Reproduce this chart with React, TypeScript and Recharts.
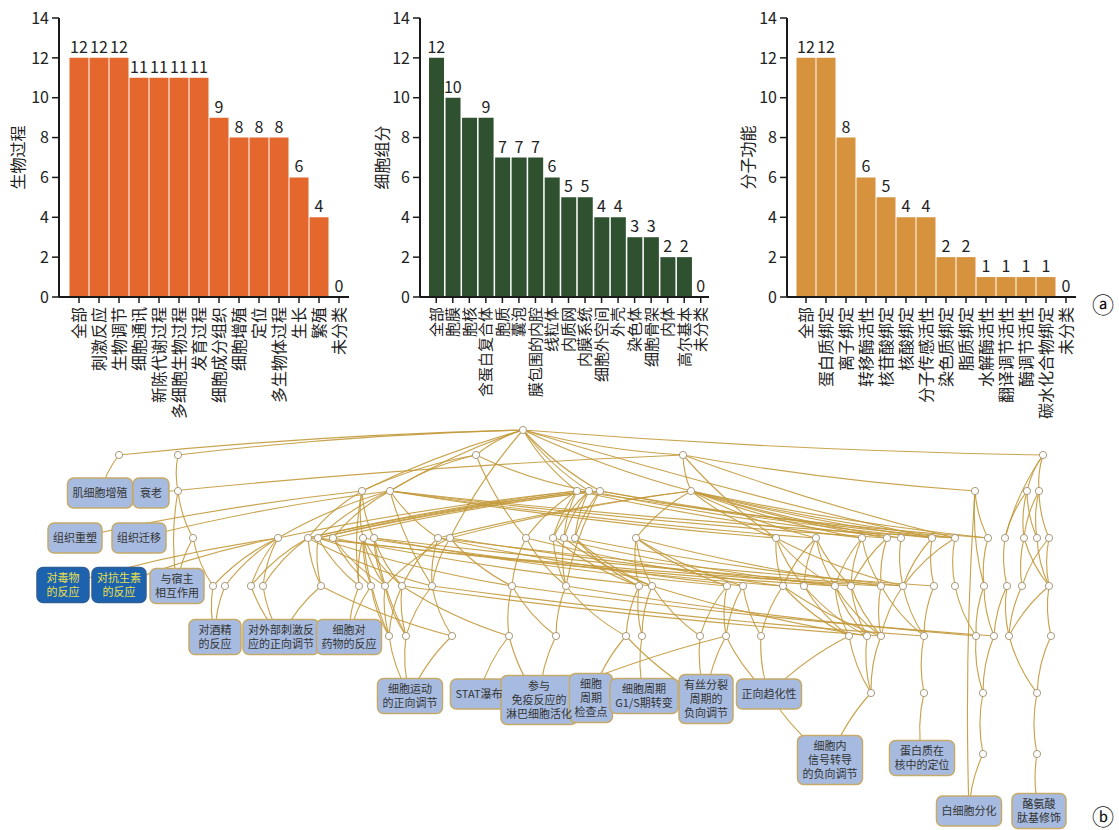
import React from "react";
import {
  ComposedChart,
  Bar,
  Line,
  XAxis,
  YAxis,
  LabelList,
  ScatterChart,
  Scatter,
  ReferenceLine,
} from "recharts";

const FONT = '"Noto Sans CJK SC", "Noto Sans", sans-serif';
const INK = "#1a1a1a";
const LINE_GAP = 13.6;

// ---- panel a: GO bar charts ----
const bpNames = ["全部", "刺激反应", "生物调节", "细胞通讯", "新陈代谢过程", "多细胞生物过程", "发育过程", "细胞成分组织", "细胞增殖", "定位", "多生物体过程", "生长", "繁殖", "未分类"];
const bpCounts = [12, 12, 12, 11, 11, 11, 11, 9, 8, 8, 8, 6, 4, 0];

const ccNames = ["全部", "胞膜", "胞核", "含蛋白复合体", "胞质", "囊泡", "膜包围的内腔", "线粒体", "内质网", "内膜系统", "细胞外空间", "外壳", "染色体", "细胞骨架", "内体", "高尔基本", "未分类"];
const ccCounts = [12, 10, 9, 9, 7, 7, 7, 6, 5, 5, 4, 4, 3, 3, 2, 2, 0];
const ccUnlabelled = ["胞核"];

const mfNames = ["全部", "蛋白质绑定", "离子绑定", "转移酶活性", "核苷酸绑定", "核酸绑定", "分子传感活性", "染色质绑定", "脂质绑定", "水解酶活性", "翻译调节活性", "酶调节活性", "碳水化合物绑定", "未分类"];
const mfCounts = [12, 12, 8, 6, 5, 4, 4, 2, 2, 1, 1, 1, 1, 0];

const yTicks = [0, 2, 4, 6, 8, 10, 12, 14];

// ---- panel b: GO term network ----
const levelY = [430, 455, 491, 538, 586, 636, 693, 754];
const levelPrefix = ["R", "A", "B", "C", "D", "E", "F", "G"];
const levelX = [
  [523],
  [119, 178, 476, 683, 1043],
  [178, 362, 390, 577, 589, 600, 691, 975, 1027, 1039],
  [193, 278, 308, 318, 333, 363, 374, 438, 450, 526, 553, 564, 575, 636, 776, 816, 862, 887, 901, 932, 955, 988, 1005, 1024, 1037, 1049],
  [213, 225, 251, 263, 321, 359, 371, 385, 402, 432, 512, 566, 639, 652, 727, 743, 783, 804, 835, 851, 881, 903, 934, 955, 984, 1007, 1022, 1049],
  [389, 406, 452, 509, 556, 626, 642, 700, 726, 761, 849, 867, 881, 924, 976, 994, 1009, 1051],
  [871, 924, 983, 1037],
  [983, 1037],
];

const termLabels = [
  "肌细胞增殖", "衰老", "组织重塑", "组织迁移", "对毒物\n的反应", "对抗生素\n的反应", "与宿主\n相互作用",
  "对酒精\n的反应", "对外部刺激反\n应的正向调节", "细胞对\n药物的反应", "细胞运动\n的正向调节", "STAT瀑布",
  "参与\n免疫反应的\n淋巴细胞活化", "细胞\n周期\n检查点", "细胞周期\nG1/S期转变", "有丝分裂\n周期的\n负向调节",
  "正向趋化性", "细胞内\n信号转导\n的负向调节", "蛋白质在\n核中的定位", "白细胞分化", "酪氨酸\n肽基修饰",
];
const termX = [100, 151, 75, 139, 63, 119, 177, 215, 281, 349, 410, 479, 539, 591, 644, 706, 769, 830, 922, 969, 1039];
const termY = [493, 493, 538, 538, 585, 585, 586, 637, 637, 637, 696, 694, 700, 698, 696, 699, 694, 760, 758, 811, 811];
const highlightedTerms = ["对毒物\n的反应", "对抗生素\n的反应"];

// each row: parent followed by its children
const linkRows = [
  "R A1 A2 A3 A4 A5 B2 B3 B4 B5 B6 B7 C9 C20",
  "A1 X1",
  "A2 B1",
  "A3 B2 B3 B5 C10",
  "A4 X2 B7 B8 C15 C21",
  "A5 B9 B10 C23",
  "B1 X7 C1",
  "B2 X3 C3 C6 C7 D6",
  "B3 X4 C2 C4 C5 C8 C15 C16 C18 C21 D10",
  "B4 C2 C3 C10 C11 C12 C17 C22",
  "B5 C3 C4 C11 C12 C13 C19",
  "B6 C4 C5 C13 C20 C21 D12",
  "B7 C8 C9 C14 C15 C16 C17 C18 C19 C20 C21 C22",
  "B8 C22 D25 X20",
  "B9 C23 C24 C25",
  "B10 C24 C25 C26",
  "C1 X7 D1",
  "C2 X5 X6 D1 D2 D3 D4",
  "C3 D3 D4 D5 D10 D21",
  "C4 D5 D6 D11 D19",
  "C5 D7 D8 D14",
  "C6 D6 D7 D8 D9 D17 E1",
  "C7 D8 D9 D15 D22 E2",
  "C8 D9 D10 D16 D23",
  "C9 D8 D10 D11 D20",
  "C10 D11 D12 D17",
  "C11 D12 D13 D19",
  "C12 D12 D14",
  "C13 D13 D14 D22",
  "C14 D13 D14 D15 D16 D21",
  "C15 D17 D18 D19 D22",
  "C16 D17 D18 D19 D20",
  "C17 D19 D20 D21",
  "C18 D20 D21",
  "C19 D22",
  "C20 D22 D23",
  "C21 D22 D24",
  "C22 D25",
  "C23 D26",
  "C24 D27 D28",
  "C25 D28",
  "C26 D27 D28",
  "D1 X8", "D2 X8", "D3 X9", "D4 X9", "D5 X9 E3", "D6 X10", "D7 X10 E1",
  "D8 E1 E2", "D9 E1 E2 E4 E13", "D10 E2 E3 E14", "D11 E4 E5 E16", "D12 E5 E6 E15",
  "D13 E6 E7", "D14 E7 E8 E12", "D15 E8 E9", "D16 E9 E10", "D17 E10 E11 E13",
  "D18 E11 E12", "D19 E11 E12 E13", "D20 E12 E13", "D21 E13 E14", "D22 E13 E14",
  "D23 E14", "D24 E15", "D25 E15 E16", "D26 E16 E17", "D27 E17", "D28 E17 E18",
  "E1 X11", "E2 X11", "E3 X11", "E4 X12 X13", "E5 X13", "E6 X14 X16", "E7 X15", "E8 X16",
  "E9 X13 X16 X17", "E10 X17", "E11 X17 F1", "E12 F1", "E13 F1", "E14 F2", "E15 F3", "E16 F3",
  "E17 F4", "E18 F4",
  "F1 X18", "X17 X18", "F2 X19", "F3 G1", "G1 X20", "F4 G2", "G2 X21",
];

// ---------------------------------------------------------------

const RotTick = ({ x, y, payload, size }: any) => (
  <text
    x={x}
    y={y + 2}
    transform={`rotate(-90, ${x}, ${y + 2})`}
    textAnchor="end"
    dy="0.36em"
    fontSize={size}
    fill="#222"
    fontFamily={FONT}
  >
    {payload.value}
  </text>
);

function GoBars({ left, names, counts, color, title, hidden = [], axisWidth, marginRight, padLeft, gap, titleX, tickFont }: any) {
  const data = names.map((name: string, i: number) => ({
    name,
    count: counts[i],
    label: hidden.includes(name) ? "" : String(counts[i]),
  }));
  return (
    <div style={{ position: "absolute", left, top: 0 }}>
      <ComposedChart
        width={350}
        height={432}
        data={data}
        margin={{ top: 18, right: marginRight, bottom: 0, left: 0 }}
        barCategoryGap={gap}
      >
        <XAxis
          dataKey="name"
          interval={0}
          height={135}
          tickSize={6}
          padding={{ left: padLeft, right: 0 }}
          axisLine={{ stroke: INK, strokeWidth: 2 }}
          tickLine={{ stroke: INK, strokeWidth: 1.5 }}
          tick={(p: any) => <RotTick {...p} size={tickFont} />}
        />
        <YAxis
          domain={[0, 14]}
          ticks={yTicks}
          width={axisWidth}
          tickSize={7}
          tickMargin={3}
          axisLine={{ stroke: INK, strokeWidth: 2 }}
          tickLine={{ stroke: INK, strokeWidth: 1.5 }}
          tick={{ fontSize: 16, fill: "#222", fontFamily: FONT }}
          label={({ viewBox }: any) => {
            const cy = viewBox.y + viewBox.height / 2;
            return (
              <text
                x={titleX}
                y={cy}
                transform={`rotate(-90, ${titleX}, ${cy})`}
                textAnchor="middle"
                dy="0.35em"
                fontSize={16}
                fill="#222"
                fontFamily={FONT}
              >
                {title}
              </text>
            );
          }}
        />
        <Bar dataKey="count" fill={color} isAnimationActive={false} />
        <Line dataKey="count" stroke="none" dot={false} activeDot={false} isAnimationActive={false}>
          <LabelList dataKey="label" position="top" offset={5} fill="#222" fontSize={16} fontFamily={FONT} />
        </Line>
      </ComposedChart>
    </div>
  );
}

const textWidth = (s: string) =>
  Array.from(s).reduce((w, ch) => w + (ch.charCodeAt(0) < 256 ? 6.3 : 11), 0);

const arcPath = (x1: number, y1: number, x2: number, y2: number) => {
  const dx = x2 - x1;
  const dy = y2 - y1;
  const len = Math.hypot(dx, dy) || 1;
  const bend = Math.min(len * 0.1, 8);
  const mx = (x1 + x2) / 2 - (dy / len) * bend;
  const my = (y1 + y2) / 2 + (dx / len) * bend;
  return `M${x1},${y1}Q${mx},${my} ${x2},${y2}`;
};

const EdgeShape = (p: any) => (
  <path d={arcPath(p.x1, p.y1, p.x2, p.y2)} fill="none" stroke="#c39a3c" strokeWidth={1.15} strokeOpacity={0.9} />
);

const NodeDot = ({ cx, cy }: any) => (
  <circle cx={cx} cy={cy} r={3.6} fill="#fff" stroke="#a99a7c" strokeWidth={1} />
);

const TermBox = ({ cx, cy, payload }: any) => {
  const lines: string[] = payload.label.split("\n");
  const w = Math.max(Math.max(...lines.map(textWidth)) + 10, lines.length === 2 ? 52 : 36);
  const h = Math.max(30, lines.length * LINE_GAP + 8);
  const dark = highlightedTerms.includes(payload.label);
  return (
    <rect
      x={cx - w / 2}
      y={cy - h / 2}
      width={w}
      height={h}
      rx={6}
      fill={dark ? "#1d62ae" : "#a7bbe0"}
      stroke={dark ? "#2f5f96" : "#c6aa6a"}
      strokeWidth={1.5}
    />
  );
};

const TermText = ({ cx, cy, payload }: any) => {
  const lines: string[] = payload.label.split("\n");
  const dark = highlightedTerms.includes(payload.label);
  const top = cy - ((lines.length - 1) * LINE_GAP) / 2 + 4;
  return (
    <g>
      {lines.map((l, i) => (
        <text key={i} x={cx} y={top + i * LINE_GAP} textAnchor="middle" fontSize={11}
          fill={dark ? "#e8e04c" : "#333"} fontFamily={FONT}>
          {l}
        </text>
      ))}
    </g>
  );
};

function TermNetwork() {
  const pos: Record<string, { x: number; y: number }> = {};
  const nodes: { x: number; y: number }[] = [];
  levelX.forEach((xs, li) =>
    xs.forEach((x, i) => {
      const id = li === 0 ? "R" : levelPrefix[li] + (i + 1);
      pos[id] = { x, y: levelY[li] };
      nodes.push({ x, y: levelY[li] });
    })
  );
  const terms = termLabels.map((label, i) => {
    pos["X" + (i + 1)] = { x: termX[i], y: termY[i] };
    return { x: termX[i], y: termY[i], label };
  });
  const links: [string, string][] = [];
  linkRows.forEach((row) => {
    const [src, ...kids] = row.split(" ");
    kids.forEach((k) => links.push([src, k]));
  });

  return (
    <div style={{ position: "absolute", left: 0, top: 420 }}>
      <ScatterChart width={1119} height={410} margin={{ top: 0, right: 0, bottom: 0, left: 0 }}>
        <XAxis type="number" dataKey="x" domain={[0, 1119]} hide />
        <YAxis type="number" dataKey="y" domain={[420, 830]} reversed hide />
        {links.map(([a, b], i) => (
          <ReferenceLine key={i} segment={[pos[a], pos[b]]} ifOverflow="visible" shape={EdgeShape} />
        ))}
        <Scatter data={nodes} shape={NodeDot} isAnimationActive={false} />
        <Scatter data={terms} shape={TermBox} isAnimationActive={false} />
        <Scatter data={terms} shape={TermText} isAnimationActive={false} />
      </ScatterChart>
    </div>
  );
}

export default function App() {
  return (
    <div style={{ position: "absolute", left: 0, top: 0, width: 1119, height: 830, background: "#fff", fontFamily: FONT }}>
      <GoBars left={0} names={bpNames} counts={bpCounts} color="#e4682d" title="生物过程"
        axisWidth={59} marginRight={1} padLeft={10} gap={0.5} titleX={18} tickFont={16} />
      <GoBars left={370} names={ccNames} counts={ccCounts} color="#2f5130" title="细胞组分" hidden={ccUnlabelled}
        axisWidth={50} marginRight={11} padLeft={8} gap={1} titleX={12} tickFont={15} />
      <GoBars left={733} names={mfNames} counts={mfCounts} color="#d6923c" title="分子功能"
        axisWidth={54} marginRight={7} padLeft={9} gap={0.5} titleX={15} tickFont={16} />
      <TermNetwork />
      <div style={{ position: "absolute", left: 1092, top: 288, fontSize: 22, lineHeight: "30px", color: "#111" }}>ⓐ</div>
      <div style={{ position: "absolute", left: 1092, top: 800, fontSize: 22, lineHeight: "30px", color: "#111" }}>ⓑ</div>
    </div>
  );
}
